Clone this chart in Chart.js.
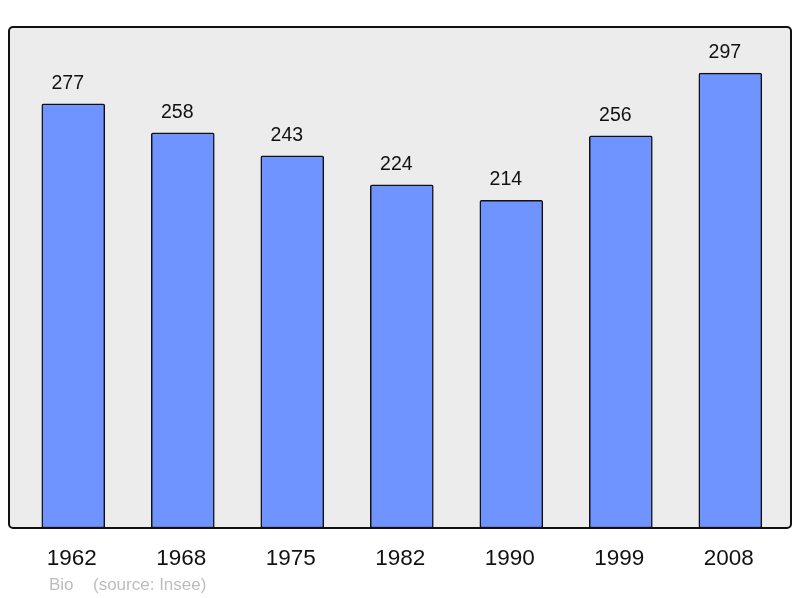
<!DOCTYPE html>
<html>
<head>
<meta charset="utf-8">
<script src="https://cdn.jsdelivr.net/npm/chart.js@4"></script>
<style>
  html, body { margin: 0; padding: 0; background: #fff; }
  canvas { display: block; }
</style>
</head>
<body>
<canvas id="popChart" width="800" height="598"></canvas>
<script>
const years = ['1962', '1968', '1975', '1982', '1990', '1999', '2008'];
const population = [277, 258, 243, 224, 214, 256, 297];
const footerName = 'Bio';
const footerSource = '(source: Insee)';

const FONT = '"Liberation Sans", Arial, sans-serif';

// gray box with rounded black border behind the bars
const framePlugin = {
    id: 'frame',
    beforeDatasetsDraw(chart) {
        const { ctx, chartArea: a } = chart;
        ctx.save();
        ctx.beginPath();
        ctx.roundRect(a.left, a.top, a.right - a.left, a.bottom - a.top, 4);
        ctx.fillStyle = '#ececec';
        ctx.fill();
        ctx.restore();
    },
    afterDatasetsDraw(chart) {
        const { ctx, chartArea: a } = chart;
        ctx.save();
        ctx.beginPath();
        ctx.roundRect(a.left, a.top, a.right - a.left, a.bottom - a.top, 4);
        ctx.lineWidth = 2;
        ctx.strokeStyle = '#111';
        ctx.stroke();
        ctx.restore();
    }
};

// values over the bars, years under the box, footer
const labelPlugin = {
    id: 'labels',
    afterDraw(chart) {
        const { ctx, chartArea: a } = chart;
        const xs = chart.scales.x;
        const ys = chart.scales.y;
        ctx.save();
        ctx.textAlign = 'center';
        ctx.textBaseline = 'alphabetic';
        ctx.fillStyle = '#111';
        population.forEach((v, i) => {
            const x = xs.getPixelForValue(i);
            ctx.font = '19.5px ' + FONT;
            ctx.fillText(String(v), x - 5.5, ys.getPixelForValue(v) - 15);
            ctx.font = '22.5px ' + FONT;
            ctx.fillText(years[i], x - 1.5, a.bottom + 37);
        });
        ctx.textAlign = 'left';
        ctx.font = '17px ' + FONT;
        ctx.fillStyle = '#bdbdbd';
        ctx.fillText(footerName, 49, a.bottom + 62);
        ctx.fillText(footerSource, 93, a.bottom + 62);
        ctx.restore();
    }
};

const ctx = document.getElementById('popChart').getContext('2d');
const chart = new Chart(ctx, {
    type: 'bar',
    data: {
        datasets: [{
            data: population.map((v, i) => ({ x: i, y: v })),
            backgroundColor: '#7094ff',
            borderColor: '#111',
            borderWidth: 1.5,
            borderRadius: 2,
            borderSkipped: false,
            barThickness: 63
        }]
    },
    options: {
        responsive: false,
        animation: false,
        layout: { padding: { left: 9, right: 9, top: 27, bottom: 70 } },
        plugins: {
            legend: { display: false },
            tooltip: { enabled: false }
        },
        scales: {
            x: { type: 'linear', min: -0.587, max: 6.554, offset: false, display: false },
            y: { min: 0, max: 327.1, display: false }
        }
    },
    plugins: [framePlugin, labelPlugin]
});
</script>
</body>
</html>
